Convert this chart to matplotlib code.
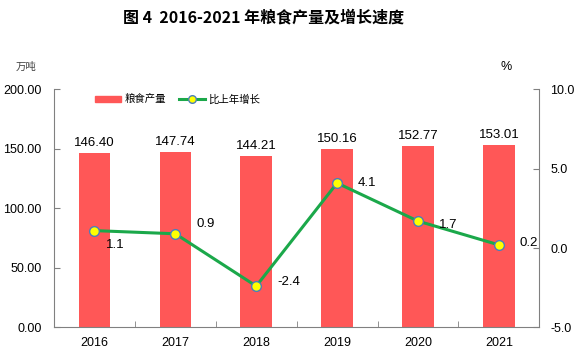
import numpy as np
import matplotlib
matplotlib.use('Agg')
import matplotlib.pyplot as plt
from matplotlib.lines import Line2D
from matplotlib.patches import Patch

plt.rcParams['font.family'] = ['Liberation Sans', 'Noto Sans CJK SC', 'DejaVu Sans']

# 数据
years = ['2016', '2017', '2018', '2019', '2020', '2021']
output = [146.40, 147.74, 144.21, 150.16, 152.77, 153.01]
growth = [1.1, 0.9, -2.4, 4.1, 1.7, 0.2]
left_ticks = [0, 50, 100, 150, 200]
right_ticks = [-5, 0, 5, 10]

bar_color = '#FF5757'
line_color = '#1BA84A'
axis_color = '#808080'

fig = plt.figure(figsize=(5.79, 3.53), dpi=100)
ax = fig.add_axes([0.0933, 0.0727, 0.8381, 0.6738])
ax2 = ax.twinx()

x = np.arange(len(years))
ax.bar(x, output, width=0.39, color=bar_color, zorder=2)
for xi, v in zip(x, output):
    ax.annotate(f'{v:.2f}', (xi, v), xytext=(0, 4), textcoords='offset pixels',
                ha='center', va='bottom', fontsize=9.5)

ax.set_xlim(-0.5, len(years) - 0.5)
ax.set_ylim(0, 200)
ax.set_yticks(left_ticks)
ax.set_yticklabels([f'{t:.2f}' for t in left_ticks], fontsize=9)
ax.set_xticks(x)
ax.set_xticklabels(years, fontsize=9)
ax.tick_params(axis='x', length=0, pad=7)
ax.set_xticks(np.arange(-0.5, len(years)), minor=True)
ax.tick_params(axis='x', which='minor', length=4, color=axis_color, direction='in')
ax.tick_params(axis='y', length=4, color=axis_color, direction='in', pad=9)

ax2.plot(x, growth, color=line_color, lw=2.2, marker='o', markersize=7,
         markerfacecolor='#FFFF00', markeredgecolor='#4A7EBB', markeredgewidth=1, zorder=3)
ax2.set_ylim(-5, 10)
ax2.set_yticks(right_ticks)
ax2.set_yticklabels([f'{t:.1f}' for t in right_ticks], fontsize=9)
ax2.tick_params(axis='y', length=4, color=axis_color, direction='in', pad=8)

offsets = [(21, -14), (30, 10), (33, 4), (30, 0), (30, -4), (30, 2)]
for xi, g, off in zip(x, growth, offsets):
    ax2.annotate(f'{g}', (xi, g), xytext=off, textcoords='offset pixels',
                 ha='center', va='center', fontsize=9.5)

for a in (ax, ax2):
    a.spines['top'].set_visible(False)
    for s in ('left', 'right', 'bottom'):
        a.spines[s].set_color(axis_color)
ax.spines['right'].set_visible(False)
ax2.spines['left'].set_visible(False)
ax2.spines['bottom'].set_visible(False)

handles = [Patch(color=bar_color),
           Line2D([], [], color=line_color, lw=2.2, marker='o', markersize=5.5,
                  markerfacecolor='#FFFF00', markeredgecolor='#4A7EBB')]
leg = ax.legend(handles, ['粮食产量', '比上年增长'], loc='upper left',
                bbox_to_anchor=(0.065, 1.02), ncol=2, frameon=False,
                prop={'family': 'Noto Sans CJK SC', 'size': 7.5},
                handlelength=2.5, handleheight=0.5, columnspacing=1.3, handletextpad=0.3)

fig.text(0.455, 0.952, '图 4  2016-2021 年粮食产量及增长速度', ha='center', va='center',
         fontsize=11.5, fontweight='bold', family=['Noto Sans CJK SC', 'DejaVu Sans'])
fig.text(0.045, 0.81, '万吨', ha='center', va='center', fontsize=7.5,
         family=['Noto Sans CJK SC'], color='#404040')
fig.text(0.874, 0.81, '%', ha='center', va='center', fontsize=9)

fig.savefig('out.png', dpi=100)
